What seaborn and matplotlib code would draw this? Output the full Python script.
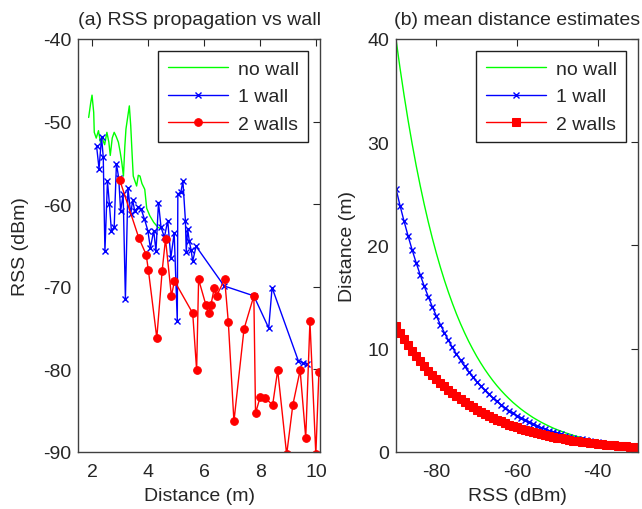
import numpy as np
import pandas as pd
import seaborn as sns
import matplotlib.pyplot as plt

# (a) RSS vs distance
nowall_dist = [1.88, 1.95, 2.00, 2.06, 2.08, 2.15, 2.23, 2.30, 2.35, 2.45, 2.53, 2.60,
               2.65, 2.72, 2.79, 2.86, 2.94, 3.00, 3.06, 3.12, 3.17, 3.21, 3.27, 3.33,
               3.38, 3.43, 3.47, 3.53, 3.59, 3.65, 3.71, 3.78, 3.88, 3.95, 4.06, 4.20,
               4.35, 4.47]
nowall_rss = [-49.5, -47.8, -46.8, -48.9, -51.3, -52.0, -51.1, -52.5, -51.9, -52.8, -51.3, -52.5,
              -54.1, -52.0, -51.3, -51.8, -52.5, -53.6, -54.9, -56.6, -53.0, -50.9, -49.5, -48.1,
              -50.5, -54.0, -56.6, -57.2, -57.8, -56.5, -56.6, -57.5, -58.2, -60.5, -61.4, -62.2,
              -62.8, -63.0]

wall1_dist = [2.16, 2.25, 2.34, 2.40, 2.46, 2.55, 2.62, 2.69, 2.79, 2.87, 2.95, 3.02,
              3.11, 3.19, 3.28, 3.38, 3.45, 3.52, 3.64, 3.75, 3.87, 3.99, 4.08, 4.20,
              4.28, 4.37, 4.46, 4.58, 4.70, 4.81, 4.93, 5.04, 5.06, 5.17, 5.24, 5.33,
              5.36, 5.41, 5.47, 5.53, 5.59, 5.71, 6.71, 7.77, 8.30, 8.42, 9.36, 9.54,
              9.66]
wall1_rss = [-52.9, -55.7, -51.9, -54.3, -65.7, -57.2, -60.0, -63.2, -62.8, -55.1, -56.8, -60.8,
             -58.8, -71.5, -58.0, -61.2, -59.5, -60.8, -60.4, -60.6, -61.8, -63.2, -65.3, -63.2,
             -65.7, -59.8, -62.8, -64.0, -62.0, -66.5, -63.5, -74.2, -58.8, -58.5, -57.2, -62.0,
             -65.8, -63.0, -64.5, -65.5, -66.9, -65.1, -69.9, -71.1, -75.0, -70.1, -79.0, -79.2,
             -79.4]

wall2_dist = [2.99, 3.67, 3.93, 4.01, 4.31, 4.50, 4.62, 4.83, 4.94, 5.59, 5.73, 5.80,
              6.06, 6.16, 6.24, 6.36, 6.44, 6.73, 6.86, 7.06, 7.42, 7.77, 7.83, 8.00,
              8.18, 8.44, 8.62, 8.94, 9.16, 9.42, 9.62, 9.77, 9.98, 10.09]
wall2_rss = [-57.1, -64.1, -66.1, -68.0, -76.2, -68.1, -64.2, -71.1, -69.3, -73.2, -80.1, -69.1,
             -72.2, -73.2, -72.2, -70.1, -71.1, -69.1, -74.3, -86.3, -75.1, -71.1, -85.3, -83.3,
             -83.5, -84.3, -80.1, -90.3, -84.3, -80.1, -88.3, -74.2, -90.3, -80.3]

# (b) mean distance estimates, one value per dBm
rss_grid = list(range(-90, -29))
nowall_est = [40.0, 37.18, 34.56, 32.12, 29.86, 27.75, 25.80, 23.98, 22.29, 20.72, 19.26,
              17.90, 16.64, 15.47, 14.38, 13.36, 12.42, 11.55, 10.73, 9.98, 9.27,
              8.62, 8.01, 7.45, 6.92, 6.43, 5.98, 5.56, 5.17, 4.80, 4.47,
              4.15, 3.86, 3.59, 3.33, 3.10, 2.88, 2.68, 2.49, 2.31, 2.15,
              2.00, 1.86, 1.73, 1.60, 1.49, 1.39, 1.29, 1.20, 1.11, 1.04,
              0.96, 0.90, 0.83, 0.77, 0.72, 0.67, 0.62, 0.58, 0.54, 0.50]
wall1_est = [25.5, 23.87, 22.35, 20.92, 19.58, 18.33, 17.16, 16.06, 15.04, 14.08, 13.18,
             12.34, 11.55, 10.81, 10.12, 9.47, 8.87, 8.30, 7.77, 7.27, 6.81,
             6.37, 5.97, 5.58, 5.23, 4.89, 4.58, 4.29, 4.01, 3.76, 3.52,
             3.29, 3.08, 2.88, 2.70, 2.53, 2.36, 2.21, 2.07, 1.94, 1.81,
             1.70, 1.59, 1.49, 1.39, 1.30, 1.22, 1.14, 1.07, 1.00, 0.94,
             0.88, 0.82, 0.77, 0.72, 0.67, 0.63, 0.59, 0.55, 0.52, 0.48]
wall2_est = [12.2, 11.55, 10.94, 10.36, 9.81, 9.29, 8.80, 8.33, 7.89, 7.47, 7.08,
             6.70, 6.35, 6.01, 5.69, 5.39, 5.10, 4.83, 4.58, 4.33, 4.10,
             3.89, 3.68, 3.49, 3.30, 3.13, 2.96, 2.80, 2.65, 2.51, 2.38,
             2.25, 2.13, 2.02, 1.91, 1.81, 1.72, 1.62, 1.54, 1.46, 1.38,
             1.31, 1.24, 1.17, 1.11, 1.05, 0.99, 0.94, 0.89, 0.84, 0.80,
             0.76, 0.72, 0.68, 0.64, 0.61, 0.58, 0.55, 0.52, 0.49, 0.46]

GREEN, BLUE, RED = "#00ff00", "#0000ff", "#ff0000"
TXT = "#262626"
FS = 14

sns.set_style("white")
plt.rcParams["font.family"] = ["Liberation Sans", "DejaVu Sans"]
plt.rcParams["font.size"] = FS
plt.rcParams["axes.unicode_minus"] = False
plt.rcParams["text.color"] = TXT
plt.rcParams["axes.labelcolor"] = TXT
plt.rcParams["xtick.color"] = TXT
plt.rcParams["ytick.color"] = TXT

fig = plt.figure(figsize=(6.42, 5.10), dpi=100)
ax1 = fig.add_axes([0.1215, 0.1118, 0.377, 0.8098])
ax2 = fig.add_axes([0.6168, 0.1118, 0.377, 0.8098])

line_kw = dict(sort=False, estimator=None, linewidth=1)

sns.lineplot(x=nowall_dist, y=nowall_rss, color=GREEN, label="no wall", ax=ax1, **line_kw)
sns.lineplot(x=wall1_dist, y=wall1_rss, color=BLUE, label="1 wall", marker="x",
             markersize=5, markeredgewidth=1, markeredgecolor=BLUE, ax=ax1, **line_kw)
sns.lineplot(x=wall2_dist, y=wall2_rss, color=RED, label="2 walls", marker="o",
             markersize=5.5, markeredgecolor=RED, ax=ax1, **line_kw)

sns.lineplot(x=rss_grid, y=nowall_est, color=GREEN, label="no wall", ax=ax2, **line_kw)
sns.lineplot(x=rss_grid, y=wall1_est, color=BLUE, label="1 wall", marker="x",
             markersize=5, markeredgewidth=1, markeredgecolor=BLUE, ax=ax2, **line_kw)
sns.lineplot(x=rss_grid, y=wall2_est, color=RED, label="2 walls", marker="s",
             markersize=6, markeredgecolor=RED, ax=ax2, **line_kw)

ax1.set_xlim(1.5, 10.13)
ax1.set_ylim(-90, -40)
ax1.set_xticks([2, 4, 6, 8, 10])
ax1.set_yticks([-90, -80, -70, -60, -50, -40])
ax1.set_xlabel("Distance (m)", labelpad=5)
ax1.set_ylabel("RSS (dBm)", labelpad=10)
ax1.set_title("(a) RSS propagation vs wall", fontsize=FS, pad=11)

ax2.set_xlim(-90, -30)
ax2.set_ylim(0, 40)
ax2.set_xticks([-80, -60, -40])
ax2.set_yticks([0, 10, 20, 30, 40])
ax2.set_xlabel("RSS (dBm)", labelpad=5)
ax2.set_ylabel("Distance (m)", labelpad=8)
ax2.set_title("(b) mean distance estimates", fontsize=FS, pad=11)

for ax in (ax1, ax2):
    for s in ax.spines.values():
        s.set_color("#404040")
        s.set_linewidth(1)
    ax.tick_params(direction="in", length=5, width=0.8, top=True, right=True,
                   labelsize=FS, colors=TXT, pad=5)
    ax.tick_params(axis="x", pad=8)
    leg = ax.legend(loc="upper right", frameon=True, fancybox=False, framealpha=1,
                    edgecolor="#202020", handlelength=3.1, handletextpad=0.5,
                    labelspacing=0.5, borderaxespad=0.6, borderpad=0.5, fontsize=FS)
    leg.get_frame().set_linewidth(1)

fig.savefig("out.png", dpi=100)
